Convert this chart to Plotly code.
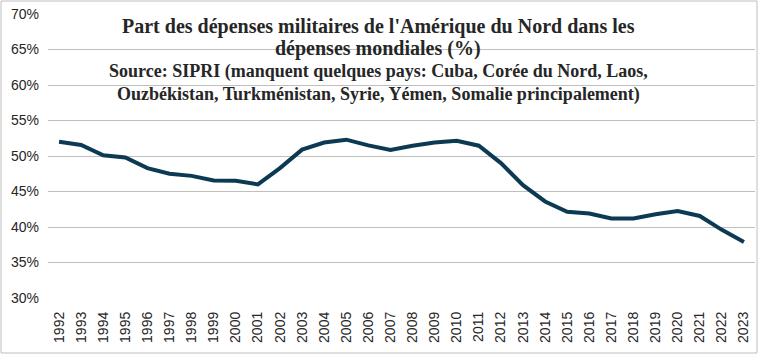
import plotly.graph_objects as go

years = [str(y) for y in range(1992, 2024)]
share = [52.0, 51.55, 50.1, 49.8, 48.3, 47.5, 47.2, 46.55, 46.5, 46.0,
         48.3, 50.9, 51.9, 52.3, 51.5, 50.85, 51.45, 51.9, 52.15, 51.45,
         49.0, 45.9, 43.6, 42.15, 41.9, 41.2, 41.2, 41.8, 42.25, 41.55,
         39.6, 37.9]
yticks = [30, 35, 40, 45, 50, 55, 60, 65, 70]
ytick_labels = [f"{v}%" for v in yticks]

title_lines = [
    "Part des dépenses militaires de l'Amérique du Nord dans les",
    "dépenses mondiales (%)",
    "Source: SIPRI (manquent quelques pays: Cuba, Corée du Nord, Laos,",
    "Ouzbékistan, Turkménistan, Syrie, Yémen, Somalie principalement)",
]
title_sizes = [20, 20, 18, 18]

W, H = 758, 355
L, R, T, B = 48, 3, 14, 57
pw, ph = W - L - R, H - T - B

def px_x(p):
    return (p - L) / pw

def px_y(p):
    return (H - B - p) / ph

fig = go.Figure()
fig.add_trace(go.Scatter(
    x=years, y=share, mode="lines",
    line=dict(color="#0c3a52", width=4, shape="linear"),
    hoverinfo="skip", showlegend=False,
))

annotations = []
centers = [26, 49, 72, 95]
for txt, sz, cy in zip(title_lines, title_sizes, centers):
    annotations.append(dict(
        text=f"<b>{txt}</b>", x=px_x(378), y=px_y(cy), xref="paper", yref="paper",
        xanchor="center", yanchor="middle", showarrow=False,
        font=dict(family="Liberation Serif", size=sz, color="#262626"),
    ))

fig.update_layout(
    width=W, height=H,
    margin=dict(l=L, r=R, t=T, b=B),
    paper_bgcolor="white", plot_bgcolor="white",
    annotations=annotations,
    shapes=[dict(type="rect", xref="paper", yref="paper",
                 x0=px_x(1), x1=px_x(757), y0=px_y(353), y1=px_y(1),
                 line=dict(color="#bfbfbf", width=1), fillcolor="rgba(0,0,0,0)",
                 layer="below")],
    xaxis=dict(
        type="category", tickangle=-90, showgrid=False, zeroline=False,
        showline=False, ticks="", ticklabelstandoff=10,
        tickfont=dict(family="Liberation Sans", size=14, color="#262626"),
        range=[-0.5, len(years) - 0.5], fixedrange=True,
    ),
    yaxis=dict(
        range=[30, 70], tickvals=yticks, ticktext=ytick_labels,
        showgrid=True, gridcolor="#bfbfbf", gridwidth=1, zeroline=False,
        showline=False, ticks="", ticklabelstandoff=8,
        tickfont=dict(family="Liberation Sans", size=14, color="#262626"),
        fixedrange=True,
    ),
)

fig.write_html("out.html", config={"displayModeBar": False},
               post_script="document.body.style.margin='0';document.body.style.overflow='hidden';")
